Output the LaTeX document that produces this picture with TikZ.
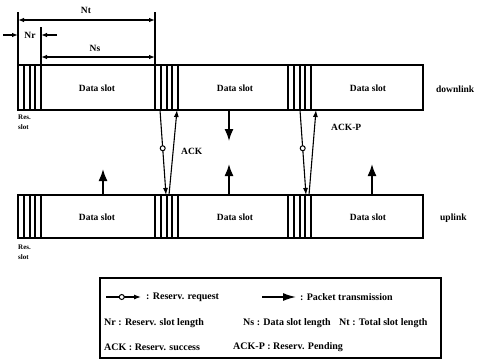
\documentclass[tikz,border=0pt]{standalone}
\usepackage{fontspec}
\setmainfont{Liberation Serif}
\usetikzlibrary{arrows.meta}
\begin{document}
\begin{tikzpicture}[x=1pt,y=-1pt,
  font=\bfseries\fontsize{9.5}{10}\selectfont,
  bar/.style={draw, line width=1.6pt},
  sub/.style={line width=1.4pt},
  dim/.style={line width=1.1pt},
  tip/.style={-{Latex[length=6pt,width=4.5pt]}},
  req/.style={line width=1.1pt, -{Latex[length=7pt,width=5pt]}},
  pkt/.style={line width=1.6pt, -{Latex[length=12pt,width=9pt]}},
  ring/.style={circle, draw, fill=white, inner sep=0pt, minimum size=5pt, line width=1pt},
  lbl/.style={inner sep=0pt},
  leg/.style={inner sep=0pt, anchor=west, font=\bfseries\fontsize{10}{11}\selectfont},
]
\useasboundingbox (0,0) rectangle (487,360);

% ---- bars ----
\draw[bar] (18,65) rectangle (423,110);
\draw[bar] (18,195) rectangle (423,238);
\foreach \s in {18,155,288} {
  \foreach \d in {0,6,12,17,23} {
    \draw[sub] (\s+\d,65) -- (\s+\d,110);
    \draw[sub] (\s+\d,195) -- (\s+\d,238);
  }
}
\node[lbl] (d1) at (97,88) {Data slot};
\node[lbl] (d2) at (235,88) {Data slot};
\node[lbl] (d3) at (368,88) {Data slot};
\node[lbl] (u1) at (97,217) {Data slot};
\node[lbl] (u2) at (235,217) {Data slot};
\node[lbl] (u3) at (368,217) {Data slot};
\node[lbl, anchor=west] (dl) at (436,89) {downlink};
\node[lbl, anchor=west] (ul) at (440,218) {uplink};
\node[lbl, anchor=west, align=left, font=\bfseries\fontsize{7}{10}\selectfont] (rs1) at (18,122) {Res.\\slot};
\node[lbl, anchor=west, align=left, font=\bfseries\fontsize{7}{10}\selectfont] (rs2) at (18,252) {Res.\\slot};

% ---- dimension lines ----
\coordinate (t0) at (18,12); \coordinate (t0b) at (18,65);
\coordinate (t1) at (155,12); \coordinate (t1b) at (155,65);
\coordinate (r1) at (41,27); \coordinate (r1b) at (41,65);
\draw[dim] (t0) -- (t0b);
\draw[dim] (t1) -- (t1b);
\draw[dim] (r1) -- (r1b);
\coordinate (nta) at (18,20); \coordinate (ntb) at (155,20);
\draw[dim, {Latex[length=6pt,width=4.5pt]}-{Latex[length=6pt,width=4.5pt]}] (nta) -- (ntb);
\node[lbl] (nt) at (86,10) {Nt};
\coordinate (nsa) at (41,57); \coordinate (nsb) at (155,57);
\draw[dim, {Latex[length=6pt,width=4.5pt]}-{Latex[length=6pt,width=4.5pt]}] (nsa) -- (nsb);
\node[lbl] (ns) at (95,48) {Ns};
\coordinate (nra) at (3,35); \coordinate (nrb) at (18,35);
\coordinate (nrc) at (57,35); \coordinate (nrd) at (41,35);
\draw[dim, tip] (nra) -- (nrb);
\draw[dim, tip] (nrc) -- (nrd);
\node[lbl] (nr) at (30,35) {Nr};

% ---- reservation / ack arrows ----
\coordinate (a1) at (160,110); \coordinate (a2) at (166,195);
\coordinate (b1) at (169,195); \coordinate (b2) at (177,110);
\draw[req] (a1) -- node[ring, pos=0.45] {} (a2);
\draw[req] (b1) -- (b2);
\node[lbl, anchor=west] (ack) at (181,151) {ACK};

\coordinate (c1) at (300,110); \coordinate (c2) at (306,195);
\coordinate (e1) at (309,195); \coordinate (e2) at (316,110);
\draw[req] (c1) -- node[ring, pos=0.45] {} (c2);
\draw[req] (e1) -- (e2);
\node[lbl, anchor=west] (ackp) at (331,127) {ACK-P};

% ---- packet arrows ----
\coordinate (p0a) at (229,110); \coordinate (p0b) at (229,141);
\draw[pkt] (p0a) -- (p0b);
\coordinate (p1a) at (103,195); \coordinate (p1b) at (103,169);
\coordinate (p2a) at (229,195); \coordinate (p2b) at (229,164);
\coordinate (p3a) at (372,195); \coordinate (p3b) at (372,164);
\draw[pkt] (p1a) -- (p1b);
\draw[pkt] (p2a) -- (p2b);
\draw[pkt] (p3a) -- (p3b);

% ---- legend ----
\draw[line width=1.3pt] (100,278) rectangle (441,358);
\coordinate (lr1) at (106,297); \coordinate (lr2) at (141,297);
\draw[req] (lr1) -- node[ring, pos=0.45] {} (lr2);
\node[leg] (lreq) at (146,297) {: Reserv. request};
\coordinate (lp1) at (262,297); \coordinate (lp2) at (296,297);
\draw[line width=1.5pt, -{Latex[length=13pt,width=8pt]}] (lp1) -- (lp2);
\node[leg] (lpkt) at (300,297) {: Packet transmission};
\node[leg] (lnr) at (104,323) {Nr : Reserv. slot length};
\node[leg] (lns) at (243,323) {Ns : Data slot length};
\node[leg] (lnt) at (339,323) {Nt : Total slot length};
\node[leg] (lack) at (104,347) {ACK : Reserv. success};
\node[leg] (lackp) at (233,347) {ACK-P : Reserv. Pending};
\end{tikzpicture}
\end{document}
